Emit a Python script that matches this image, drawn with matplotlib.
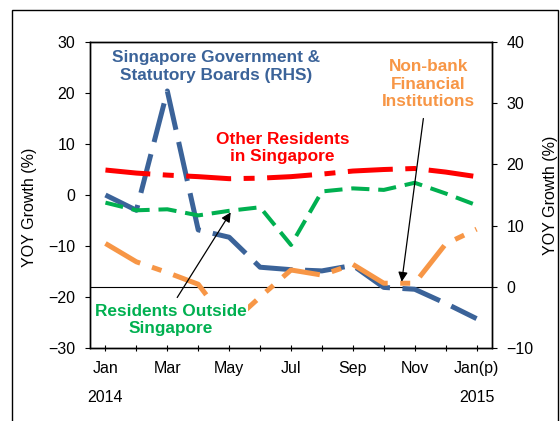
import matplotlib
matplotlib.use("Agg")
import matplotlib.pyplot as plt
import matplotlib.patches as patches
from matplotlib.transforms import blended_transform_factory

# data ---------------------------------------------------
months = ["Jan", "Feb", "Mar", "Apr", "May", "Jun", "Jul",
          "Aug", "Sep", "Oct", "Nov", "Dec", "Jan(p)"]
tick_labels = ["Jan", "", "Mar", "", "May", "", "Jul",
               "", "Sep", "", "Nov", "", "Jan(p)"]
years = ["2014", "2015"]

other_res = [4.9, 4.3, 3.9, 3.6, 3.2, 3.3, 3.6, 4.1, 4.7, 5.0, 5.2, 4.5, 3.6]
res_outside = [-1.5, -3.0, -2.8, -4.0, -3.1, -2.4, -9.8, 0.7, 1.3, 1.0, 2.4, 0.3, -2.0]
nonbank = [-9.5, -13.1, -15.2, -17.5, -25.5, -20.0, -14.7, -15.7, -13.6, -17.3, -17.3, -9.6, -6.7]
govt_rhs = [15.0, 12.5, 32.0, 9.3, 8.1, 3.2, 2.8, 2.6, 3.5, -0.1, -0.4, -2.7, -5.2]

blue = "#3B6399"
red = "#FF0000"
green = "#00B050"
orange = "#F79646"
# --------------------------------------------------------

plt.rcParams["font.family"] = ["Liberation Sans", "DejaVu Sans"]
plt.rcParams["font.size"] = 11.5

fig = plt.figure(figsize=(5.6, 4.21), dpi=100)
ax = fig.add_axes([0.1607, 0.1734, 0.7179, 0.7268])
ax2 = ax.twinx()

x = list(range(len(months)))

# zero line of the right axis
ax2.axhline(0, color="black", lw=0.8, zorder=1)

ax.plot(x, nonbank, color=orange, lw=3.6, ls=(0, (8, 2.5, 2, 2.5)), zorder=3)
ax.plot(x, res_outside, color=green, lw=2.9, ls=(0, (4.5, 2.2)), zorder=3)
ax.plot(x, other_res, color=red, lw=3.6, ls=(0, (9, 2.5, 2.2, 2.5)), zorder=3)
ax2.plot(x, govt_rhs, color=blue, lw=3.6, ls=(0, (8, 2.5)), zorder=3)

ax.set_xlim(-0.5, 12.5)
ax.set_ylim(-30, 30)
ax.set_yticks([-30, -20, -10, 0, 10, 20, 30])
ax2.set_ylim(-10, 40)
ax2.set_yticks([-10, 0, 10, 20, 30, 40])

ax.set_xticks(x)
ax.set_xticklabels(tick_labels)
ax.tick_params(axis="x", direction="inout", length=4.5, width=0.8, pad=7)
ax.tick_params(axis="y", direction="out", length=3.6, width=0.8, pad=7)
ax2.tick_params(axis="y", direction="out", length=3.6, width=0.8, pad=7)

for sp in list(ax.spines.values()) + list(ax2.spines.values()):
    sp.set_linewidth(1.0)

ax.set_ylabel("YOY Growth (%)")
ax.yaxis.set_label_coords(-0.133, 0.46)
ax2.set_ylabel("YOY Growth (%)")
ax2.yaxis.set_label_coords(1.128, 0.5)

trans = blended_transform_factory(ax.transData, ax.transAxes)
ax.text(0, -0.163, years[0], transform=trans, ha="center", va="center")
ax.text(12, -0.163, years[1], transform=trans, ha="center", va="center")

# labels and arrows
ax.text(3.57, 25.2, "Singapore Government &\nStatutory Boards (RHS)",
        color=blue, fontweight="bold", fontsize=12.4, ha="center", va="center",
        linespacing=1.22, zorder=5)
ax.text(5.72, 9.2, "Other Residents\nin Singapore", color=red, fontweight="bold",
        fontsize=12.4, ha="center", va="center", linespacing=1.22, zorder=5)
ax.text(10.44, 21.7, "Non-bank\nFinancial\nInstitutions", color=orange, fontweight="bold",
        fontsize=12.4, ha="center", va="center", linespacing=1.22, zorder=5)
ax.text(2.10, -24.5, "Residents Outside\nSingapore", color=green, fontweight="bold",
        fontsize=12.4, ha="center", va="center", linespacing=1.22, zorder=5,
        bbox=dict(facecolor="white", edgecolor="none", pad=1))

ax.annotate("", xy=(4.05, -3.4), xytext=(2.32, -20.1),
            arrowprops=dict(arrowstyle="-|>", color="black", lw=0.9,
                            mutation_scale=14, shrinkA=0, shrinkB=0), zorder=6)
ax.annotate("", xy=(9.58, -17.0), xytext=(10.28, 15.0),
            arrowprops=dict(arrowstyle="-|>", color="black", lw=0.9,
                            mutation_scale=14, shrinkA=0, shrinkB=0), zorder=6)

# put the left axes (with the labels) above the twin
ax.set_zorder(ax2.get_zorder() + 1)
ax.patch.set_visible(False)

# outer frame
frame = patches.Rectangle((12 / 560, -0.1), (558 - 12) / 560, 1.1 - 10 / 421,
                          transform=fig.transFigure, fill=False, edgecolor="black",
                          lw=1.0, clip_on=False)
fig.patches.append(frame)

plt.savefig("out.png", dpi=100)
plt.close()
